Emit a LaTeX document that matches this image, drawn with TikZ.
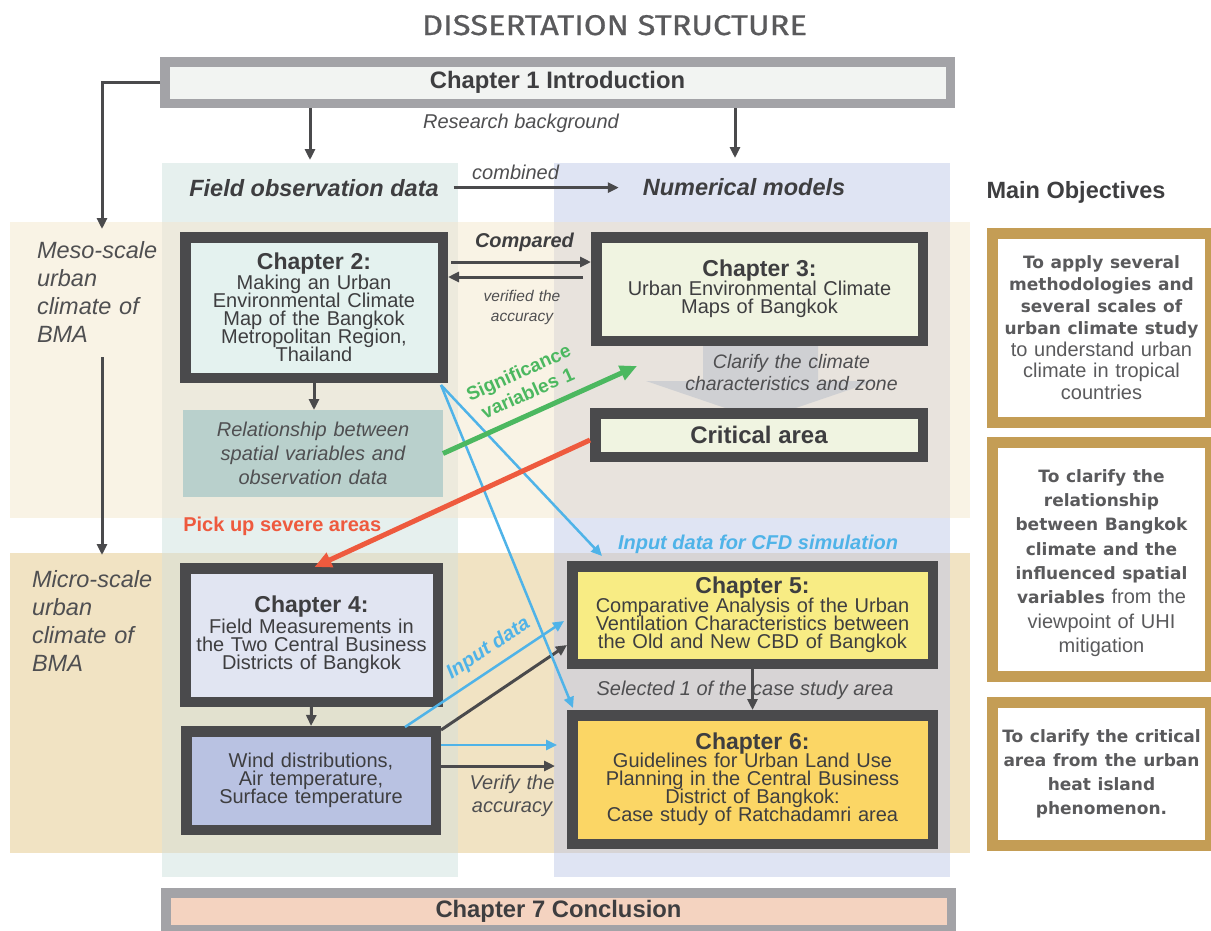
\documentclass[tikz,border=0pt]{standalone}
\usepackage{graphicx}
\usepackage{fontspec}
\setmainfont{Liberation Sans}
\newfontfamily\titlefont[FakeBold=0.6]{Fira Sans}
\newfontfamily\objfont{DejaVu Sans}
\usetikzlibrary{arrows.meta,calc}
\definecolor{dk}{HTML}{4A4A4C}
\definecolor{txt}{HTML}{3E3E40}
\definecolor{ltxt}{HTML}{4F4F51}
\definecolor{ttl}{HTML}{5A5A5C}
\definecolor{grb}{HTML}{A3A3A7}
\definecolor{ch1c}{HTML}{F2F4F2}
\definecolor{ch7c}{HTML}{F4D3C0}
\definecolor{otxt}{HTML}{5A5A5C}
\definecolor{gold}{HTML}{C49D55}
\definecolor{fieldc}{HTML}{E6F0EE}
\definecolor{numc}{HTML}{DFE4F3}
\definecolor{meso}{HTML}{F9F3E5}
\definecolor{micro}{HTML}{F1E3C3}
\definecolor{fmeso}{HTML}{EDEADD}
\definecolor{nmeso}{HTML}{E8E3DD}
\definecolor{fmicro}{HTML}{E2E1CF}
\definecolor{nmicro}{HTML}{D7D4D5}
\definecolor{c2c}{HTML}{E4F2EF}
\definecolor{c3c}{HTML}{F0F4E1}
\definecolor{relc}{HTML}{B9D0CC}
\definecolor{c4c}{HTML}{E1E5F2}
\definecolor{windc}{HTML}{B9C2E2}
\definecolor{c5c}{HTML}{F8EC84}
\definecolor{c6c}{HTML}{FBD665}
\definecolor{blu}{HTML}{4FB3E8}
\definecolor{grn}{HTML}{4CB860}
\definecolor{redc}{HTML}{EE5A3E}
\definecolor{garw}{HTML}{CFD0D3}
\newcommand\myfs[2]{\fontsize{#1}{#2}\selectfont\lineskiplimit=-100pt\lineskip=0pt\relax}
\newcommand\objb[1]{\objfont\bfseries\fontsize{17pt}{#1}\selectfont\lineskiplimit=-100pt\relax}
\newcommand\chtitle{\bfseries\fontsize{23pt}{18pt}\selectfont}
\begin{document}
\begin{tikzpicture}[x=1pt,y=-1pt,
 every node/.style={inner sep=0pt,outer sep=0pt,text=txt},
 dbox/.style={draw=dk,line width=10.5pt,outer sep=5.25pt,fill=#1,align=center,font=\myfs{20pt}{18pt}},
 gbox/.style={draw=grb,line width=9.5pt,outer sep=4.75pt,fill=#1,font=\bfseries\fontsize{23.8pt}{26pt}\selectfont},
 obox/.style={draw=gold,line width=11pt,outer sep=5.5pt,fill=white,align=center,text width=206pt,text=otxt},
 otext/.style={align=center,text width=206pt,text=otxt},
 lbl/.style={font=\itshape\fontsize{20pt}{23pt}\selectfont,text=ltxt},
 bigit/.style={font=\bfseries\itshape\fontsize{23.5pt}{26pt}\selectfont,text=txt},
 darr/.style={draw=dk,line width=3pt,-{Triangle[length=11pt,width=10pt]}},
 barr/.style={draw=blu,line width=2.5pt,-{Triangle[length=11pt,width=10pt]}},
 garr/.style={draw=grn,line width=5pt,-{Triangle[length=17pt,width=15pt]}},
 rarr/.style={draw=redc,line width=5pt,-{Triangle[length=17pt,width=15pt]}}]
\useasboundingbox (0,0) rectangle (1211,930);
\fill[white] (0,0) rectangle (1211,930);
% bands and columns
\fill[meso] (10,222) rectangle (970,518);
\fill[micro] (10,553) rectangle (970,853);
\fill[fieldc] (162,163) rectangle (458,877);
\fill[numc] (554,163) rectangle (950,877);
\fill[fmeso] (162,222) rectangle (458,518);
\fill[nmeso] (554,222) rectangle (950,518);
\fill[fmicro] (162,553) rectangle (458,853);
\fill[nmicro] (554,553) rectangle (950,853);
% title
\node[anchor=base,font=\titlefont,text=ttl] (title) at (614.5,35) {\resizebox{385pt}{20pt}{DISSERTATION STRUCTURE}};
% chapter 1 and 7
\node[gbox=ch1c,minimum width=785.5pt,minimum height=41.5pt] (ch1) at (557.5,82.5) {Chapter 1 Introduction};
\node[gbox=ch7c,minimum width=785.5pt,minimum height=36.5pt] (ch7) at (558.5,911) {Chapter 7 Conclusion};
% labels top
\node[lbl,anchor=base] (rb) at (521,128) {Research background};
\node[bigit,anchor=base] (fot) at (314,196) {Field observation data};
\node[bigit,anchor=base] (nmt) at (744,195) {Numerical models};
\node[lbl,anchor=base] (comb) at (515.6,179) {combined};
\node[anchor=base,font=\bfseries\fontsize{23.5pt}{26pt}\selectfont] (mo) at (1076,198) {Main Objectives};
% scale labels
\node[anchor=north west,align=left,text width=140pt,font=\itshape\myfs{23.5pt}{28.3pt},text=ltxt] (mesol) at (37,241) {Meso-scale\\urban\\climate of\\BMA};
\node[anchor=north west,align=left,text width=140pt,font=\itshape\myfs{23.5pt}{28.3pt},text=ltxt] (microl) at (32,570) {Micro-scale\\urban\\climate of\\BMA};
% gray block arrow
\fill[garw] (703,346) -- (818,346) -- (818,381) -- (875,381) -- (760.5,420) -- (646,381) -- (703,381) -- cycle;
% chapter boxes
\node[dbox=c2c,minimum width=257.5pt,minimum height=140.5pt,text width=250pt] (ch2) at (314,307.5) {{\chtitle Chapter 2:}\\[2pt]Making an Urban\\Environmental Climate\\Map of the Bangkok\\Metropolitan Region,\\Thailand};
\node[dbox=c3c,minimum width=326.5pt,minimum height=103.5pt,text width=320pt] (ch3) at (759.5,289) {{\chtitle Chapter 3:}\\[1pt]Urban Environmental Climate\\Maps of Bangkok};
\node[dbox=c3c,minimum width=327.5pt,minimum height=43.5pt,font=\bfseries\fontsize{24pt}{26pt}\selectfont] (crit) at (759,435) {Critical area};
\node[fill=relc,minimum width=260pt,minimum height=87pt,text width=255pt,align=center,font=\itshape\myfs{20pt}{24pt},text=ltxt] (rel) at (313,453.5) {Relationship between\\spatial variables and\\observation data};
\node[dbox=c4c,minimum width=252.5pt,minimum height=133.5pt,text width=246pt] (ch4) at (311.5,635) {{\chtitle Chapter 4:}\\[3pt]Field Measurements in\\the Two Central Business\\Districts of Bangkok};
\node[dbox=windc,minimum width=249.5pt,minimum height=98.5pt,text width=240pt] (wind) at (311,780.5) {Wind distributions,\\Air temperature,\\Surface temperature};
\node[dbox=c5c,minimum width=360.5pt,minimum height=97.5pt,text width=354pt] (ch5) at (752.5,615) {{\chtitle Chapter 5:}\\[1pt]Comparative Analysis of the Urban\\Ventilation Characteristics between\\the Old and New CBD of Bangkok};
\node[dbox=c6c,minimum width=360.5pt,minimum height=128.5pt,text width=354pt] (ch6) at (752.5,779.5) {{\chtitle Chapter 6:}\\Guidelines for Urban Land Use\\Planning in the Central Business\\District of Bangkok:\\Case study of Ratchadamri area};
% objectives
\node[obox,minimum width=218pt,minimum height=189pt,font=\myfs{20pt}{21.8pt}] (ob1) at (1101.5,328) {{\objb{21.8pt}To apply several\\methodologies and\\several scales of\\urban climate study}\\to understand urban\\climate in tropical\\countries};
\node[obox,minimum width=218pt,minimum height=234pt] (ob2) at (1101.5,559.5) {};
\node[otext,font=\myfs{20pt}{24.3pt}] (ob2t) at (1101.5,563) {{\objb{24.3pt}To clarify the\\relationship\\between Bangkok\\climate and the\\influenced spatial\\variables} from the\\viewpoint of UHI\\mitigation};
\node[obox,minimum width=218pt,minimum height=143pt,font=\myfs{20pt}{24pt}] (ob3) at (1101.5,774) {{\objb{24pt}To clarify the critical\\area from the urban\\heat island\\phenomenon.}};
% middle labels
\node[lbl,align=center,text width=240pt,font=\itshape\myfs{19.5pt}{22pt}] (clar) at (791.5,373) {Clarify the climate\\characteristics and zone};
\node[anchor=base,font=\bfseries\itshape\fontsize{20pt}{22pt}\selectfont] (cmp) at (524.5,247) {Compared};
\node[align=center,text width=100pt,font=\itshape\myfs{15.5pt}{20pt},text=ltxt] (vta) at (522,307) {verified the\\accuracy};
\node[rotate=24,align=center,text width=140pt,font=\bfseries\myfs{19pt}{22.5pt},text=grn] (sig) at (523,382.5) {Significance\\variables 1};
\node[anchor=base,font=\bfseries\fontsize{20pt}{22pt}\selectfont,text=redc] (pick) at (282.3,531) {Pick up severe areas};
\node[anchor=base,font=\bfseries\itshape\fontsize{20pt}{22pt}\selectfont,text=blu] (cfd) at (758,549) {Input data for CFD simulation};
\node[rotate=33.5,font=\bfseries\itshape\fontsize{20pt}{22pt}\selectfont,text=blu] (indata) at (488.5,648.5) {Input data};
\node[lbl,anchor=base] (sel) at (745,695) {Selected 1 of the case study area};
\node[lbl,align=center,text width=100pt,font=\itshape\myfs{20pt}{23pt}] (ver) at (512,796) {Verify the\\accuracy};
% coordinates
\coordinate (mA) at (102,229);
\coordinate (fo) at (310,160);
\coordinate (nm) at (735,158);
\coordinate (m1) at (102,357);
\coordinate (m2) at (102,555);
\coordinate (sigp) at (637,366);
\coordinate (cfdp) at (602,556);
% connectors
\draw[darr] (ch1.west) -| (mA);
\draw[darr] (ch1.south -| fo) -- (fo);
\draw[darr] (ch1.south -| nm) -- (nm);
\draw[darr] ($(fot.east)+(15,0)$) -- ($(fot.east -| nmt.west)+(-24,0)$);
\draw[darr] ($(ch2.north east)+(3,30)$) -- ($(ch3.north west)+(0,30)$);
\draw[darr] ($(ch3.north west)+(-8,45)$) -- ($(ch2.north east)+(0,45)$);
\draw[darr] (ch2.south) -- (ch2.south |- rel.north);
\draw[darr] (m1) -- (m2);
\draw[darr] (ch4.south) -- (wind.north);
\draw[darr] (ch5.south) -- (ch6.north);
\draw[darr] ($(wind.north east)+(0,4)$) -- ($(ch5.west)+(0,30)$);
\draw[darr] ($(wind.east)+(0,-14.5)$) -- ($(ch6.west)+(-12,-13.5)$);
\draw[barr] ($(wind.east)+(0,-35.5)$) -- ($(ch6.west)+(-10,-34.5)$);
\draw[barr] ($(wind.north east)+(-36,1)$) -- ($(ch5.west)+(-3,6)$);
\draw[barr] ($(ch2.south east)+(-7,2)$) -- ($(ch6.north west)+(6,-2)$);
\draw[barr] ($(ch2.south east)+(-7,2)$) -- (cfdp);
\draw[garr] (rel.east) -- (sigp);
\draw[rarr] ($(crit.west)+(0,5)$) -- ($(ch4.north)+(3,4)$);
\end{tikzpicture}
\end{document}
